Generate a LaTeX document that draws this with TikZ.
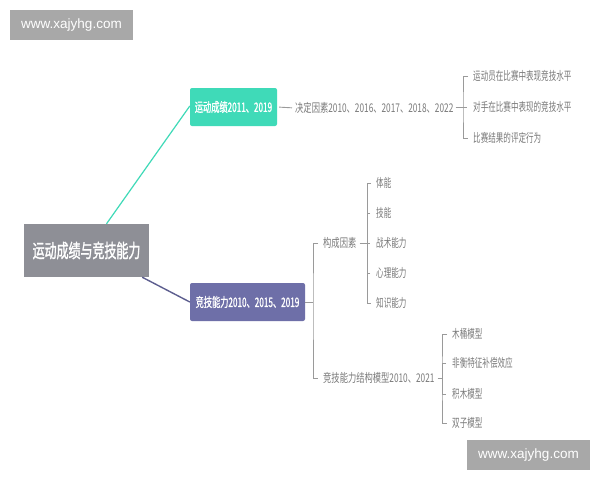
\documentclass[tikz,border=0pt]{standalone}
\usepackage{fontspec}
\newfontfamily\cjkleaf[FakeStretch=0.63]{Noto Sans CJK SC}
\newfontfamily\cjkmid[FakeStretch=0.69]{Noto Sans CJK SC}
\newfontfamily\cjkbox[FakeStretch=0.63,FakeBold=1.2]{Noto Sans CJK SC}
\newfontfamily\cjkroot[FakeStretch=0.63,FakeBold=1.4]{Noto Sans CJK SC}
\newfontfamily\wmfont{Liberation Sans}
\definecolor{rootgray}{HTML}{8E8F96}
\definecolor{tealc}{HTML}{3FDAB8}
\definecolor{purplec}{HTML}{6E6FA8}
\definecolor{txtgray}{HTML}{7A7A7A}
\definecolor{linegray}{HTML}{9A9A9A}
\definecolor{wmgray}{HTML}{A8A8A8}
\tikzset{
  rootbox/.style={fill=rootgray, text=white, inner sep=0pt, minimum width=125pt, minimum height=53pt, font=\cjkroot\fontsize{19}{21}\selectfont},
  mainbox/.style={text=white, inner sep=0pt, minimum height=38pt, rounded corners=2pt, font=\cjkbox\fontsize{13}{15}\selectfont},
  leaf/.style={text=txtgray, inner sep=0pt, anchor=west, font=\cjkleaf\fontsize{12}{14}\selectfont},
  mid/.style={text=txtgray, inner sep=0pt, anchor=west, font=\cjkmid\fontsize{12}{14}\selectfont},
  conn/.style={draw=linegray, line width=0.9pt},
  wm/.style={fill=wmgray, text=white, inner sep=0pt, minimum width=123pt, minimum height=30pt, font=\wmfont\fontsize{13.5}{15}\selectfont}
}
\begin{document}
\begin{tikzpicture}[x=1pt,y=-1pt]
\useasboundingbox[fill=white] (0,0) rectangle (600,480);
% watermarks
\node[wm] (wm1) at (71.5,25) {www.xajyhg.com};
\node[wm] (wm2) at (528.5,455) {www.xajyhg.com};
% main nodes
\node[rootbox] (root) at (86.5,250.5) {运动成绩与竞技能力};
\node[mainbox, fill=tealc, minimum width=87pt] (teal) at (233.5,107) {运动成绩2011、2019};
\node[mainbox, fill=purplec, minimum width=115pt] (purple) at (247.5,302) {竞技能力2010、2015、2019};
\draw[draw=tealc, line width=1.2pt] ([xshift=20pt]root.north) -- ([yshift=1pt]teal.west);
\draw[draw=purplec!85!black, line width=1.4pt] ([xshift=-7pt]root.south east) -- (purple.west);
% teal branch
\node[mid] (t1) at (295,108) {决定因素2010、2016、2017、2018、2022};
\node[leaf] (a1) at (473,76) {运动员在比赛中表现竞技水平};
\node[leaf] (a2) at (473,107) {对手在比赛中表现的竞技水平};
\node[leaf] (a3) at (473,138) {比赛结果的评定行为};
\coordinate (ba) at (463,107);
\draw[conn, shorten <=2pt, shorten >=3pt] (teal.east) -- (t1.west);
\draw[conn, shorten <=2pt] (t1.east |- ba) -- (ba);
\draw[conn] ([xshift=-5pt]a1.west) -| (ba) |- ([xshift=-5pt]a3.west);
\draw[conn] (ba) -- ([xshift=-6pt]a2.west);
% purple branch
\node[mid] (p1) at (323,243) {构成因素};
\node[mid] (p2) at (323,378) {竞技能力结构模型2010、2021};
\coordinate (bb) at (313,302);
\draw[conn] (purple.east) -- (bb);
\draw[conn] ([xshift=-5pt]p1.west) -| (bb) |- ([xshift=-5pt]p2.west);
% group C
\node[leaf] (b1) at (376,183) {体能};
\node[leaf] (b2) at (376,213) {技能};
\node[leaf] (b3) at (376,243) {战术能力};
\node[leaf] (b4) at (376,273) {心理能力};
\node[leaf] (b5) at (376,303) {知识能力};
\coordinate (bc) at (367,243);
\draw[conn, shorten <=3pt] (p1.east) -- (bc);
\draw[conn] ([xshift=-5pt]b1.west) -| (bc) |- ([xshift=-5pt]b5.west);
\draw[conn] ([xshift=-6pt]b2.west) -| (bc);
\draw[conn] (bc) -- ([xshift=-6pt]b3.west);
\draw[conn] ([xshift=-6pt]b4.west) -| (bc);
% group D
\node[leaf] (c1) at (452,334) {木桶模型};
\node[leaf] (c2) at (452,363) {非衡特征补偿效应};
\node[leaf] (c3) at (452,394) {积木模型};
\node[leaf] (c4) at (452,423) {双子模型};
\coordinate (bd) at (442,378);
\draw[conn, shorten <=3pt] (p2.east) -- (bd);
\draw[conn] ([xshift=-5pt]c1.west) -| (bd) |- ([xshift=-5pt]c4.west);
\draw[conn] ([xshift=-6pt]c2.west) -| (bd);
\draw[conn] ([xshift=-6pt]c3.west) -| (bd);
\end{tikzpicture}
\end{document}
